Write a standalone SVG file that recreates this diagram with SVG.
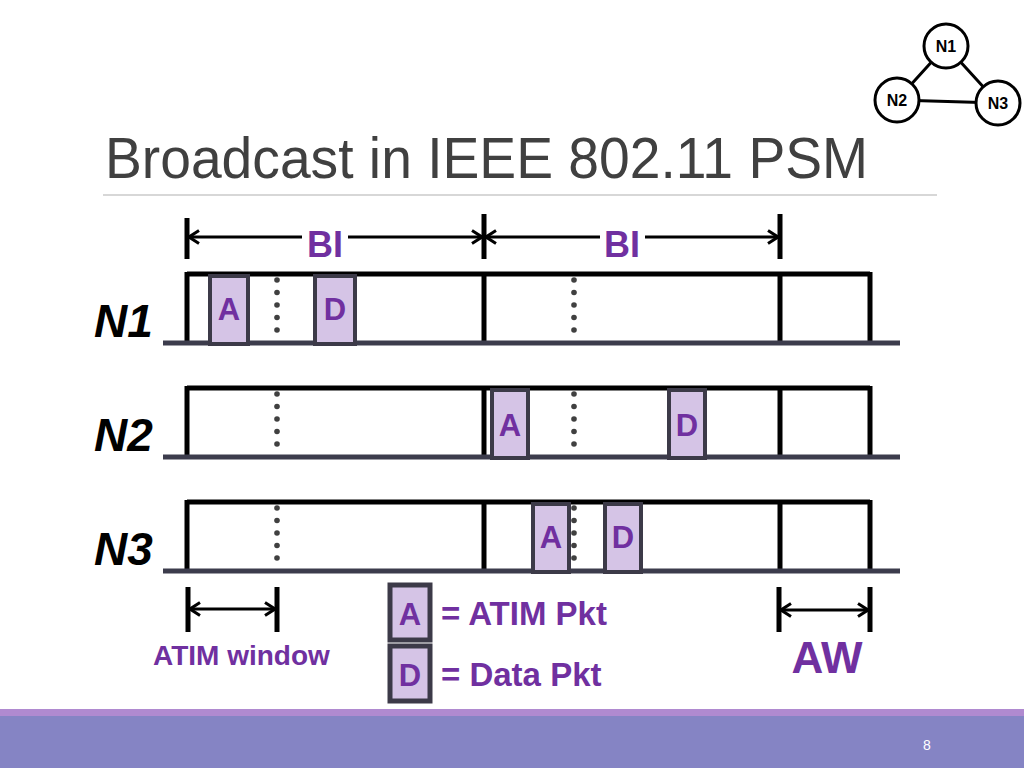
<svg xmlns="http://www.w3.org/2000/svg" width="1024" height="768" viewBox="0 0 1024 768">
<style>
.t{font-family:"Liberation Sans",Arial,Helvetica,sans-serif}
.p{fill:#7030a0;font-weight:bold}
.bar{stroke:#000;stroke-width:5;fill:none}
.base{stroke:#3c3c4c;stroke-width:5}
.pkt{fill:#d5c4e6;stroke:#3c3a48;stroke-width:4}
.dot{fill:#404040}
.arr{stroke:#000;stroke-width:3;fill:none}
.lbl{font-family:"Liberation Sans",Arial,sans-serif;font-weight:bold;font-style:italic;font-size:46px;fill:#000}
.plet{font-family:"Liberation Sans",Arial,sans-serif;font-weight:bold;font-size:31px;fill:#7030a0;text-anchor:middle}
.node{fill:#fff;stroke:#000;stroke-width:3}
.ntxt{font-family:"Liberation Sans",Arial,sans-serif;font-weight:bold;font-size:16px;text-anchor:middle}
</style>
<defs>
<marker id="ah" viewBox="0 0 12 16" refX="11" refY="8" markerWidth="12" markerHeight="16" markerUnits="userSpaceOnUse" orient="auto-start-reverse">
<path d="M1,1.5 L11,8 L1,14.5" fill="none" stroke="#000" stroke-width="3"/>
</marker>
<g id="dots" class="dot">
<circle cx="0" cy="6" r="2.8"/><circle cx="0" cy="18.5" r="2.8"/><circle cx="0" cy="31" r="2.8"/><circle cx="0" cy="43.5" r="2.8"/><circle cx="0" cy="56" r="2.8"/>
</g>
<g id="frame">
<path class="bar" d="M187,274 H870"/>
<path class="bar" d="M187,272 V344 M484,272 V344 M780,272 V344 M870,272 V344"/>
<path class="base" d="M163,343 H900"/>
<use href="#dots" x="277" y="274"/>
<use href="#dots" x="574" y="274"/>
</g>
</defs>
<rect width="1024" height="768" fill="#fff"/>

<text class="t" x="105" y="178" font-size="57" fill="#404040" textLength="763" lengthAdjust="spacingAndGlyphs">Broadcast in IEEE 802.11 PSM</text>
<path d="M103,195 H937" stroke="#b0b0b0" stroke-width="1.2"/>

<g id="connectors">
<path d="M946,46 L897,100 M946,46 L998,103 M897,100 L998,103" stroke="#000" stroke-width="3"/>
<path class="arr" d="M189,237 H302" marker-start="url(#ah)"/>
<path class="arr" d="M348,237 H482" marker-end="url(#ah)"/>
<path class="arr" d="M486,237 H600" marker-start="url(#ah)"/>
<path class="arr" d="M645,237 H778" marker-end="url(#ah)"/>
<path class="arr" d="M190,609 H275" marker-start="url(#ah)" marker-end="url(#ah)"/>
<path class="arr" d="M781,610 H868" marker-start="url(#ah)" marker-end="url(#ah)"/>
</g>

<g id="bi-ticks">
<path class="bar" d="M187,218 V259 M484,214 V259 M780,214 V259"/>
<text class="t p" x="325" y="257" font-size="36" text-anchor="middle">BI</text>
<text class="t p" x="622" y="257" font-size="36" text-anchor="middle">BI</text>
</g>

<g id="topo-N1"><circle class="node" cx="946" cy="46" r="22"/><text class="ntxt" x="946" y="52">N1</text></g>
<g id="topo-N2"><circle class="node" cx="897" cy="100" r="22"/><text class="ntxt" x="897" y="106">N2</text></g>
<g id="topo-N3"><circle class="node" cx="998" cy="103" r="22"/><text class="ntxt" x="998" y="109">N3</text></g>

<g id="row-N1">
<text class="lbl" x="94" y="337">N1</text>
<use href="#frame"/>
<rect class="pkt" x="210" y="276" width="38" height="68"/>
<text class="plet" x="229" y="320">A</text>
<rect class="pkt" x="315" y="276" width="40" height="68"/>
<text class="plet" x="335" y="320">D</text>
</g>

<g id="row-N2">
<text class="lbl" x="94" y="451">N2</text>
<use href="#frame" y="114"/>
<rect class="pkt" x="492" y="390" width="36" height="68"/>
<text class="plet" x="510" y="436">A</text>
<rect class="pkt" x="669" y="390" width="36" height="68"/>
<text class="plet" x="687" y="436">D</text>
</g>

<g id="row-N3">
<text class="lbl" x="94" y="565">N3</text>
<use href="#frame" y="228"/>
<rect class="pkt" x="533" y="504" width="36" height="68"/>
<text class="plet" x="551" y="548">A</text>
<rect class="pkt" x="605" y="504" width="36" height="68"/>
<text class="plet" x="623" y="548">D</text>
</g>

<g id="atim-window">
<path class="bar" d="M188,587 V632 M277,587 V632"/>
<text class="t p" x="153" y="665" font-size="28">ATIM window</text>
</g>

<g id="aw">
<path class="bar" d="M779,587 V632 M870,587 V632"/>
<text class="t p" x="827" y="673" font-size="44" text-anchor="middle">AW</text>
</g>

<g id="legend">
<rect x="390" y="585" width="40" height="55" fill="#d5c4e6" stroke="#3c3a48" stroke-width="5"/>
<text class="plet" x="410" y="625" font-size="32">A</text>
<rect x="390" y="646" width="40" height="55" fill="#d5c4e6" stroke="#3c3a48" stroke-width="5"/>
<text class="plet" x="410" y="686" font-size="32">D</text>
<text class="t p" x="441" y="625" font-size="33">= ATIM Pkt</text>
<text class="t p" x="441" y="686" font-size="33">= Data Pkt</text>
</g>

<rect x="0" y="709" width="1024" height="8" fill="#b08ad0"/>
<rect x="0" y="716" width="1024" height="52" fill="#8584c4"/>
<text class="t" x="927" y="750" font-size="14" fill="#fff" text-anchor="middle">8</text>
</svg>
